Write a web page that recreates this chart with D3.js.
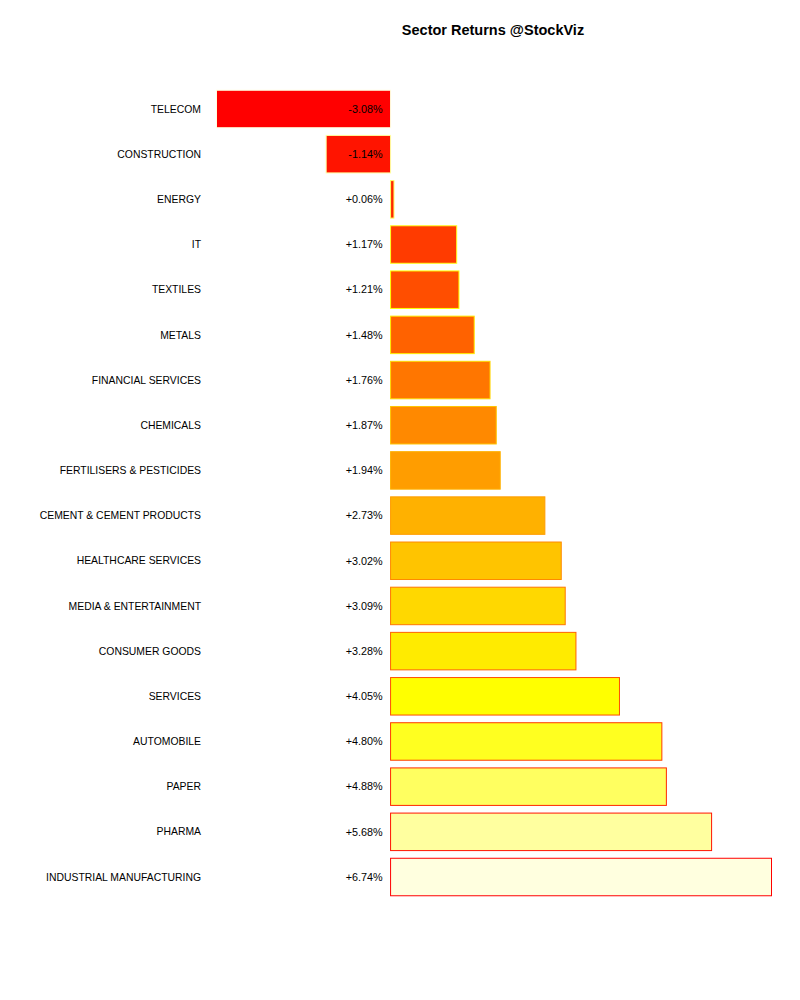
<!DOCTYPE html>
<html>
<head>
<meta charset="utf-8">
<script src="https://cdn.jsdelivr.net/npm/d3@7"></script>
<style>
  body { margin: 0; background: #fff; }
  text { font-family: "Liberation Sans", Arial, sans-serif; }
</style>
</head>
<body>
<div id="container"></div>
<script>
var sectors = ["TELECOM", "CONSTRUCTION", "ENERGY", "IT", "TEXTILES", "METALS",
    "FINANCIAL SERVICES", "CHEMICALS", "FERTILISERS & PESTICIDES", "CEMENT & CEMENT PRODUCTS",
    "HEALTHCARE SERVICES", "MEDIA & ENTERTAINMENT", "CONSUMER GOODS", "SERVICES",
    "AUTOMOBILE", "PAPER", "PHARMA", "INDUSTRIAL MANUFACTURING"];
var returns = [-3.08, -1.14, 0.06, 1.17, 1.21, 1.48, 1.76, 1.87, 1.94, 2.73,
    3.02, 3.09, 3.28, 4.05, 4.80, 4.88, 5.68, 6.74];

var width = 800, height = 1000;

// R style heat.colors(n)
function heatColors(n) {
  var j = Math.floor(n / 4), i = n - j, out = [];
  for (var k = 0; k < i; k++) {
    var h = i > 1 ? (k / (i - 1)) * 60 : 0;
    out.push(d3.hsl(h, 1, 0.5).formatHex());
  }
  for (var k = 0; k < j; k++) {
    var s = j > 1 ? (1 - 1 / (2 * j)) - k * ((1 - 1 / j) / (j - 1)) : 0.5;
    // hsv(1/6, s, 1) -> rgb(255, 255, 255*(1-s))
    var b = Math.round(255 * (1 - s));
    out.push(d3.rgb(255, 255, b).formatHex());
  }
  return out;
}
var fills = heatColors(sectors.length);
var strokes = fills.slice().reverse();

var svg = d3.select("#container").append("svg")
    .attr("width", width)
    .attr("height", height);

var x = d3.scaleLinear()
    .domain([d3.min(returns), d3.max(returns)])
    .range([216.5, 771.5]);

var y = d3.scaleBand()
    .domain(sectors)
    .range([86.4, 899.6])
    .paddingInner(0.17)
    .paddingOuter(0.085);

svg.append("text")
    .attr("x", 493)
    .attr("y", 35)
    .attr("text-anchor", "middle")
    .style("font-size", "14.5px")
    .style("font-weight", "bold")
    .text("Sector Returns @StockViz");

var rows = svg.selectAll("g.row")
  .data(sectors)
  .enter().append("g")
    .attr("class", "row");

rows.append("rect")
    .attr("x", function(d, i) { return x(Math.min(0, returns[i])); })
    .attr("y", function(d) { return y(d); })
    .attr("width", function(d, i) { return Math.abs(x(returns[i]) - x(0)); })
    .attr("height", y.bandwidth())
    .style("fill", function(d, i) { return fills[i]; })
    .style("stroke", function(d, i) { return strokes[i]; })
    .style("stroke-width", 1);

rows.append("text")
    .attr("x", 201)
    .attr("y", function(d) { return y(d) + y.bandwidth() / 2; })
    .attr("dy", "0.35em")
    .attr("text-anchor", "end")
    .style("font-size", "10.4px")
    .text(function(d) { return d; });

rows.append("text")
    .attr("x", x(0) - 8)
    .attr("y", function(d) { return y(d) + y.bandwidth() / 2; })
    .attr("dy", "0.35em")
    .attr("text-anchor", "end")
    .style("font-size", "10.8px")
    .text(function(d, i) { return (returns[i] >= 0 ? "+" : "") + returns[i].toFixed(2) + "%"; });
</script>
</body>
</html>
